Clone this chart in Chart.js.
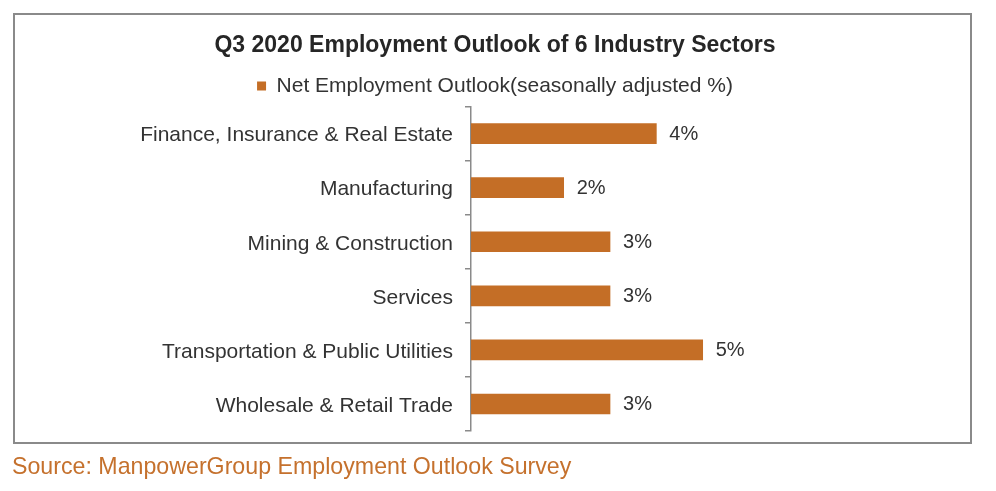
<!DOCTYPE html>
<html lang="en">
<head>
<meta charset="utf-8">
<style>
    body { margin: 0; background: #fff; }
    #wrap { position: relative; width: 996px; height: 491px; }
    #frame {
        position: absolute; left: 13px; top: 13px; width: 955px; height: 427px;
        border: 2px solid #8a8a8a; pointer-events: none;
    }
    #chart { position: absolute; left: 0; top: 0; }
    #source {
        position: absolute; left: 12px; top: 453px;
        font-family: "Liberation Sans", Arial, sans-serif; font-size: 23.2px; color: #c5712d;
    }
</style>
</head>
<body>
<div id="wrap">
    <canvas id="chart" width="996" height="491"></canvas>
    <div id="frame"></div>
    <div id="source">Source: ManpowerGroup Employment Outlook Survey</div>
</div>
<script src="https://cdn.jsdelivr.net/npm/chart.js"></script>
<script>
    // sectors and their outlook values (%)
    const sectors = [
        'Finance, Insurance & Real Estate',
        'Manufacturing',
        'Mining & Construction',
        'Services',
        'Transportation & Public Utilities',
        'Wholesale & Retail Trade'
    ];
    const outlook = [4, 2, 3, 3, 5, 3];
    const seriesName = 'Net Employment Outlook(seasonally adjusted %)';

    const barColor = '#c46e26';
    const textColor = '#333333';
    const fontFamily = '"Liberation Sans", Arial, sans-serif';

    // write the % next to each bar
    const valueLabels = {
        id: 'valueLabels',
        afterDatasetsDraw(chart) {
            const ctx = chart.ctx;
            const meta = chart.getDatasetMeta(0);
            ctx.save();
            ctx.font = '20px ' + fontFamily;
            ctx.fillStyle = textColor;
            ctx.textAlign = 'left';
            ctx.textBaseline = 'middle';
            meta.data.forEach(function(bar, i) {
                ctx.fillText(outlook[i] + '%', bar.x + 13, bar.y + 1);
            });
            ctx.restore();
        }
    };

    new Chart(document.getElementById('chart'), {
        type: 'bar',
        data: {
            labels: sectors,
            datasets: [{
                label: seriesName,
                data: outlook,
                backgroundColor: barColor,
                borderWidth: 0,
                barThickness: 20
            }]
        },
        plugins: [valueLabels],
        options: {
            indexAxis: 'y',
            responsive: false,
            animation: false,
            layout: { padding: { top: 20, right: 6, bottom: 60, left: 0 } },
            plugins: {
                title: {
                    display: true,
                    text: 'Q3 2020 Employment Outlook of 6 Industry Sectors',
                    color: '#262626',
                    font: { family: fontFamily, size: 23, weight: 'bold' },
                    padding: { top: 12, bottom: 6 }
                },
                legend: {
                    display: true,
                    labels: {
                        color: textColor,
                        font: { family: fontFamily, size: 21 },
                        boxWidth: 9,
                        boxHeight: 9,
                        padding: 10
                    }
                },
                tooltip: { enabled: false }
            },
            scales: {
                x: { display: false, min: 0, max: 11.2 },
                y: {
                    afterFit(scale) { scale.width = 471; },
                    border: { display: true, color: '#8a8a8a', width: 1.5 },
                    grid: {
                        display: true,
                        drawOnChartArea: false,
                        drawTicks: true,
                        tickLength: 6,
                        color: '#8a8a8a',
                        lineWidth: 1.5
                    },
                    ticks: {
                        color: textColor,
                        padding: 12,
                        labelOffset: 2,
                        font: { family: fontFamily, size: 21 }
                    }
                }
            }
        }
    });
</script>
</body>
</html>
